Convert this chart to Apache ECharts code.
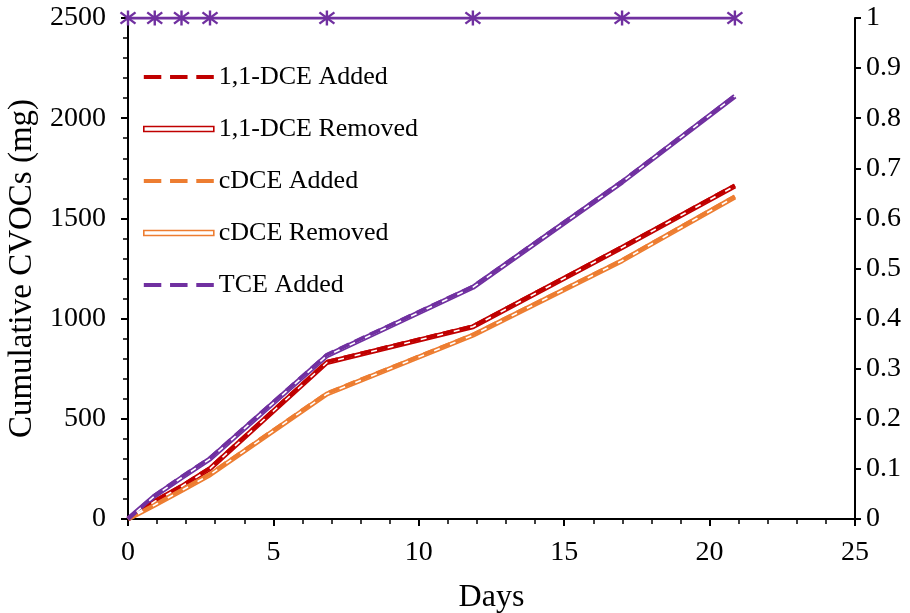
<!DOCTYPE html>
<html>
<head>
<meta charset="utf-8">
<script src="https://cdn.jsdelivr.net/npm/echarts@6/dist/echarts.min.js"></script>
<style>
  html, body { margin: 0; padding: 0; background: #fff; }
  #chart { width: 910px; height: 613px; }
</style>
</head>
<body>
<div id="chart"></div>
<script>
// Sampling days
var days = [0, 0.92, 1.84, 2.82, 6.84, 11.86, 16.99, 20.87];

// Cumulative mass (mg)
var dceAdded   = [0, 90, 165, 255, 785, 962, 1358, 1665];
var dceRemoved = [0, 88, 162, 251, 781, 959, 1355, 1662];
var cdceAdded   = [0, 72, 145, 225, 628, 920, 1292, 1610];
var cdceRemoved = [0, 70, 142, 221, 624, 917, 1289, 1607];
var tceAdded   = [0, 118, 210, 305, 820, 1160, 1685, 2112];
var tceRemoved = [0, 115, 206, 300, 815, 1156, 1681, 2110];

// Fraction on secondary axis
var fraction = [1, 1, 1, 1, 1, 1, 1, 1];

var RED = '#c00000', ORANGE = '#ed7d31', PURPLE = '#7030a0';
var FONT = '"Liberation Serif", "Times New Roman", serif';

function pairs(ys) {
  return days.map(function (d, i) { return [d, ys[i]]; });
}

// "Removed" series drawn as a coloured outline with a white core
function removedSeries(name, ys, color) {
  return [
    { name: name, type: 'line', data: pairs(ys), symbol: 'none', z: 2,
      lineStyle: { color: color, width: 5 }, itemStyle: { color: color } },
    { name: name + ' core', type: 'line', data: pairs(ys), symbol: 'none', z: 3,
      lineStyle: { color: '#ffffff', width: 1.6 }, itemStyle: { color: '#ffffff' }, silent: true }
  ];
}

function addedSeries(name, ys, color) {
  return { name: name, type: 'line', data: pairs(ys), symbol: 'none', z: 4,
    lineStyle: { color: color, width: 3.8, type: [11, 6] }, itemStyle: { color: color } };
}

var asterisk = 'path://M0,-8L0,8M-7,-6L7,6M-7,6L7,-6';
var dashIcon = 'path://M0,0h18v4h-18zM27,0h18v4h-18zM54,0h18v4h-18z';

var series = []
  .concat(removedSeries('1,1-DCE Removed', dceRemoved, RED))
  .concat(removedSeries('cDCE Removed', cdceRemoved, ORANGE))
  .concat(removedSeries('TCE Removed', tceRemoved, PURPLE))
  .concat([
    addedSeries('1,1-DCE Added', dceAdded, RED),
    addedSeries('cDCE Added', cdceAdded, ORANGE),
    addedSeries('TCE Added', tceAdded, PURPLE),
    { name: 'Fraction', type: 'line', yAxisIndex: 1, data: pairs(fraction), z: 5,
      symbol: asterisk, symbolSize: 15, showSymbol: true,
      lineStyle: { color: PURPLE, width: 3 },
      itemStyle: { color: 'none', borderColor: PURPLE, borderWidth: 2.4 } }
  ]);

function removedLegend(name, color) {
  return { name: name, icon: 'rect',
    itemStyle: { color: '#ffffff', borderColor: color, borderWidth: 1.6 } };
}
function addedLegend(name, color) {
  return { name: name, icon: dashIcon, itemStyle: { color: color, borderWidth: 0 } };
}

var chart = echarts.init(document.getElementById('chart'), null, { renderer: 'canvas' });
chart.setOption({
  animation: false,
  backgroundColor: '#ffffff',
  grid: { left: 128, right: 55, top: 18, bottom: 94, containLabel: false, outerBoundsMode: 'none' },
  legend: {
    orient: 'vertical', left: 138, top: 59,
    itemWidth: 70, itemHeight: 5, itemGap: 26,
    textStyle: { fontFamily: FONT, fontSize: 26, color: '#000', lineHeight: 24 },
    data: [
      addedLegend('1,1-DCE Added', RED),
      removedLegend('1,1-DCE Removed', RED),
      addedLegend('cDCE Added', ORANGE),
      removedLegend('cDCE Removed', ORANGE),
      addedLegend('TCE Added', PURPLE)
    ]
  },
  xAxis: {
    type: 'value', min: 0, max: 25, interval: 5,
    name: 'Days', nameLocation: 'middle', nameGap: 63,
    nameTextStyle: { fontFamily: FONT, fontSize: 32, color: '#000' },
    axisLine: { onZero: false, lineStyle: { color: '#000', width: 2 } },
    axisTick: { show: true, length: 7, lineStyle: { color: '#000', width: 2 } },
    minorTick: { show: true, splitNumber: 5, length: 5, lineStyle: { color: '#000', width: 1.5 } },
    axisLabel: { fontFamily: FONT, fontSize: 28, color: '#000', margin: 20 },
    splitLine: { show: false }
  },
  yAxis: [
    {
      type: 'value', min: 0, max: 2500, interval: 500,
      name: 'Cumulative CVOCs (mg)', nameLocation: 'middle', nameGap: 81, nameRotate: 90,
      nameTextStyle: { fontFamily: FONT, fontSize: 33, color: '#000' },
      axisLine: { show: true, lineStyle: { color: '#000', width: 2 } },
      axisTick: { show: true, length: 7, lineStyle: { color: '#000', width: 2 } },
      minorTick: { show: true, splitNumber: 5, length: 5, lineStyle: { color: '#000', width: 1.5 } },
      axisLabel: { fontFamily: FONT, fontSize: 28, color: '#000', margin: 22,
        formatter: function (v) { return String(v); } },
      splitLine: { show: false }
    },
    {
      type: 'value', min: 0, max: 1, interval: 0.1, position: 'right',
      axisLine: { show: true, lineStyle: { color: '#000', width: 2 } },
      axisTick: { show: true, length: 6, lineStyle: { color: '#000', width: 2 } },
      axisLabel: { fontFamily: FONT, fontSize: 28, color: '#000', margin: 11,
        formatter: function (v) { return String(Math.round(v * 10) / 10); } },
      splitLine: { show: false }
    }
  ],
  series: series
});
</script>
</body>
</html>
